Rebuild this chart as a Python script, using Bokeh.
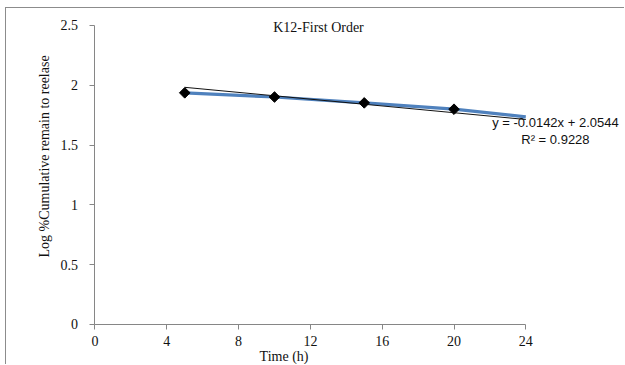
import math
from bokeh.plotting import figure
from bokeh.models import Range1d, FixedTicker, Label
from bokeh.embed import file_html
from bokeh.resources import INLINE

# ---- data ----
time_h = [5, 10, 15, 20, 24]
log_remain = [1.937, 1.902, 1.853, 1.800, 1.736]
marker_time = [5, 10, 15, 20]
marker_log = [1.937, 1.902, 1.853, 1.800]
trend_x = [5, 24]
trend_y = [1.983, 1.714]
x_ticks = [0, 4, 8, 12, 16, 20, 24]
y_ticks = [0, 0.5, 1, 1.5, 2, 2.5]
y_tick_labels = ["0", "0.5", "1", "1.5", "2", "2.5"]
title_text = "K12-First Order"
x_label = "Time (h)"
y_label = "Log %Cumulative remain to reelase"
eq_text = "y = -0.0142x + 2.0544"
r2_text = "R\u00b2 = 0.9228"

SERIF = "Liberation Serif"
SANS = "Liberation Sans"
AXIS_GRAY = "#868686"
TXT = "#111111"

W, H = 619, 357
p = figure(width=W, height=H, output_backend="svg", toolbar_location=None,
           x_range=Range1d(-4.930, 29.554), y_range=Range1d(-0.3428, 2.642),
           min_border=0)
p.styles = {"margin-left": "5px", "margin-top": "7px",
            "border-left": "1px solid #8c8c8c", "border-top": "1px solid #8c8c8c"}
p.outline_line_color = None
p.xgrid.visible = False
p.ygrid.visible = False
p.background_fill_color = "white"
p.border_fill_color = "white"

for ax in (p.xaxis[0], p.yaxis[0]):
    ax.fixed_location = 0
    ax.axis_line_color = AXIS_GRAY
    ax.major_tick_line_color = AXIS_GRAY
    ax.minor_tick_line_color = None
    ax.major_tick_in = 0
    ax.major_tick_out = 5
    ax.major_label_text_font = SERIF
    ax.major_label_text_font_size = "14px"
    ax.major_label_text_color = TXT

p.xaxis[0].bounds = (0, 24)
p.xaxis[0].ticker = FixedTicker(ticks=x_ticks)
p.xaxis[0].major_label_standoff = 7
p.yaxis[0].bounds = (0, 2.5)
p.yaxis[0].ticker = FixedTicker(ticks=y_ticks)
p.yaxis[0].major_label_overrides = {t: s for t, s in zip(y_ticks, y_tick_labels)}
p.yaxis[0].major_label_standoff = 12

# series line, trendline, markers
p.line(time_h, log_remain, line_color="#4F81BD", line_width=3.2)
p.line(trend_x, trend_y, line_color=TXT, line_width=1)
p.scatter(marker_time, marker_log, marker="square", angle=math.pi / 4,
          size=7.5, fill_color="black", line_color="black")

# texts
p.add_layout(Label(x=12.45, y=2.483, text=title_text, text_font=SERIF,
                   text_font_size="14px", text_align="center", text_baseline="middle",
                   text_color=TXT))
p.add_layout(Label(x=10.53, y=-0.268, text=x_label, text_font=SERIF,
                   text_font_size="14px", text_align="center", text_baseline="middle",
                   text_color=TXT))
p.add_layout(Label(x=-2.81, y=1.405, text=y_label, text_font=SERIF, angle=math.pi / 2,
                   text_font_size="14px", text_align="center", text_baseline="middle",
                   text_color=TXT))
p.add_layout(Label(x=25.65, y=1.689, text=eq_text, text_font=SANS,
                   text_font_size="13px", text_align="center", text_baseline="middle",
                   text_color=TXT))
p.add_layout(Label(x=25.65, y=1.547, text=r2_text, text_font=SANS,
                   text_font_size="13px", text_align="center", text_baseline="middle",
                   text_color=TXT))

open("out.html", "w").write(file_html(p, INLINE))
